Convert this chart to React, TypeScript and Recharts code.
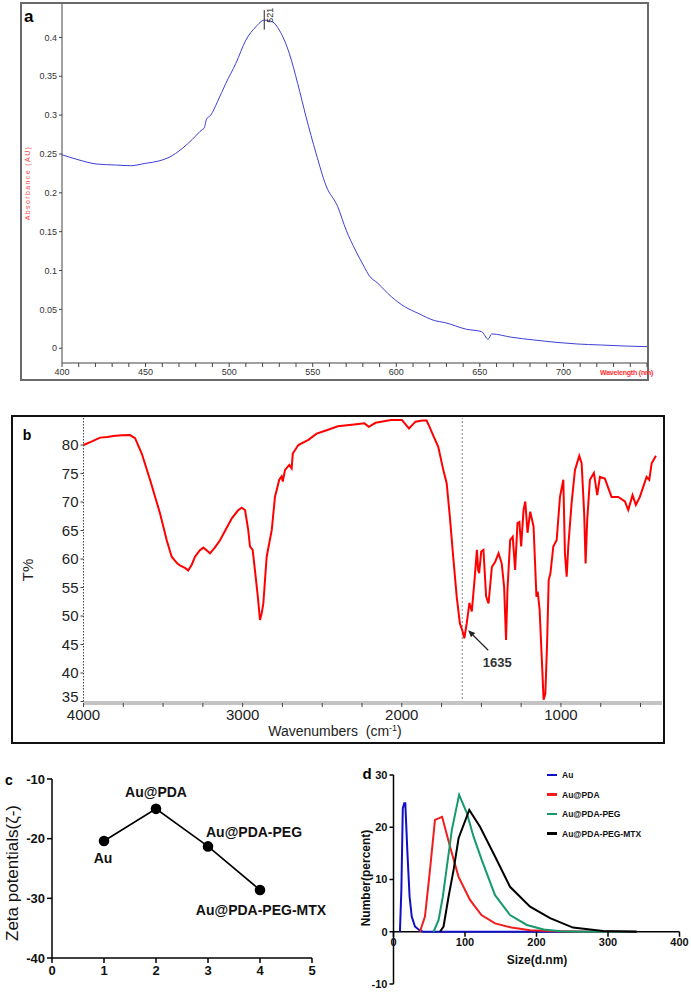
import { LineChart, Line, XAxis, YAxis, ReferenceLine, LabelList, Legend } from 'recharts';

// ---------- panel a: UV-vis spectrum ----------
const wavelength = [
  400, 409, 421, 432, 441, 450, 458, 464, 472, 478,
  484, 485, 486.5, 489, 493, 498, 504, 510, 516, 521,
  526, 530, 536, 541, 546, 552, 558, 565, 570, 575.5,
  581, 583.5, 589, 597, 605, 613, 623, 629, 642, 651,
  655, 657, 669, 682, 695, 708, 722, 735, 750,
];
const absorbance = [
  0.249, 0.243, 0.237, 0.2358, 0.2349, 0.238, 0.241, 0.2456, 0.2572, 0.2688,
  0.2816, 0.283, 0.295, 0.3, 0.3172, 0.3408, 0.3665, 0.3965, 0.4137, 0.4222,
  0.42, 0.4094, 0.3794, 0.3408, 0.2979, 0.2508, 0.209, 0.182, 0.152, 0.1264,
  0.104, 0.0943, 0.0835, 0.0664, 0.0535, 0.045, 0.0355, 0.033, 0.0244, 0.0214,
  0.0116, 0.0184, 0.0141, 0.0107, 0.0077, 0.0055, 0.0042, 0.003, 0.002,
];
const uvPeak = 521;
const uvYTicks = [0, 0.05, 0.1, 0.15, 0.2, 0.25, 0.3, 0.35, 0.4];
const uvXLabels = [400, 450, 500, 550, 600, 650, 700];

// ---------- panel b: FTIR spectrum ----------
const ftirWavenumber = [
  4000, 3950, 3896, 3850, 3812, 3760, 3708, 3676, 3634, 3582,
  3519, 3477, 3446, 3410, 3394, 3360, 3342, 3320, 3299, 3270,
  3247, 3225, 3205, 3175, 3142, 3100, 3069, 3030, 3006, 2985,
  2965, 2954, 2937, 2923, 2905, 2891, 2880, 2870, 2849, 2817,
  2797, 2770, 2755, 2748, 2734, 2707, 2692, 2685, 2650, 2587,
  2535, 2472, 2402, 2300, 2235, 2207, 2165, 2068, 1999, 1970,
  1955, 1935, 1914, 1870, 1844, 1823, 1800, 1771, 1739, 1718,
  1698, 1677, 1655, 1635, 1620, 1607, 1592, 1575, 1560, 1543,
  1528, 1520, 1514, 1501, 1487, 1470, 1455, 1434, 1413, 1392,
  1372, 1357, 1345, 1336, 1319, 1303, 1288, 1273, 1261, 1250,
  1235, 1224, 1210, 1193, 1172, 1154, 1146, 1134, 1119, 1109,
  1098, 1087, 1077, 1066, 1048, 1027, 1006, 985, 975, 964,
  954, 933, 912, 885, 870, 854, 845, 835, 818, 793,
  772, 755, 724, 682, 640, 598, 577, 550, 529, 504,
  462, 445, 430, 403,
];
const ftirTransmittance = [
  80.0, 80.6, 81.3, 81.4, 81.6, 81.7, 81.75, 81.2, 78.5, 73.9,
  68.0, 63.3, 60.4, 59.2, 58.9, 58.4, 58.0, 59.0, 60.4, 61.5,
  62.0, 61.5, 61.0, 62.0, 63.3, 65.5, 67.1, 68.5, 69.0, 68.6,
  65.1, 62.2, 61.6, 58.1, 53.5, 49.3, 50.5, 52.2, 60.4, 65.1,
  70.9, 73.9, 74.5, 73.6, 75.6, 76.5, 75.9, 78.5, 80.0, 80.9,
  82.0, 82.6, 83.3, 83.6, 83.8, 83.2, 83.9, 84.4, 84.4, 83.4,
  82.9, 83.5, 84.1, 84.3, 84.3, 83.0, 81.5, 79.7, 75.6, 73.3,
  67.4, 60.4, 53.4, 48.7, 47.5, 46.1, 48.7, 52.3, 50.8, 56.3,
  61.6, 58.0, 57.5, 61.3, 61.6, 53.4, 52.2, 58.6, 59.5, 61.0,
  59.2, 55.1, 45.8, 54.6, 63.3, 63.9, 58.1, 66.3, 66.5, 62.2,
  68.6, 70.1, 64.6, 68.3, 65.7, 53.4, 54.3, 51.1, 41.7, 35.3,
  36.4, 45.2, 56.3, 57.5, 62.2, 63.3, 70.9, 73.9, 61.0, 56.9,
  62.2, 69.8, 75.6, 78.1, 76.8, 68.0, 59.2, 66.8, 73.9, 75.1,
  71.2, 74.4, 74.1, 70.9, 70.9, 70.1, 68.6, 71.2, 69.5, 70.9,
  74.4, 73.9, 76.8, 78.1,
];
const ftirYTicks = [35, 40, 45, 50, 55, 60, 65, 70, 75, 80];
const ftirXTicks = [4000, 3750, 3500, 3250, 3000, 2750, 2500, 2250, 2000, 1750, 1500, 1250, 1000, 750, 500];
const ftirMarkLine = 1620;
const ftirMarkText = '1635';
const ftirArrow = [{ x: 1457, y: 44.0 }, { x: 1583, y: 47.5 }];

// ---------- panel c: zeta potential ----------
const zetaSamples = ['Au', 'Au@PDA', 'Au@PDA-PEG', 'Au@PDA-PEG-MTX'];
const zetaIndex = [1, 2, 3, 4];
const zetaPotential = [-20.4, -15.0, -21.3, -28.6];

// ---------- panel d: DLS size distribution ----------
const dlsNames = ['Au', 'Au@PDA', 'Au@PDA-PEG', 'Au@PDA-PEG-MTX'];
const dlsColors = ['#1010c4', '#f21c1c', '#169a6c', '#000000'];
const sizeAu = [9, 11, 13, 15, 16.5, 19.5, 22.5, 25.5, 30, 37, 42, 100, 200, 340];
const numAu = [0, 8, 23.6, 24.6, 24.6, 15, 6.7, 2.9, 1, 0.2, 0, 0, 0, 0];
const sizePda = [37, 44, 51, 58, 68, 79, 91, 107, 123, 142, 165, 191, 230, 270, 340];
const numPda = [0, 2.9, 11.8, 21.4, 22, 16.3, 10.5, 6.1, 3.2, 1.6, 0.8, 0.3, 0.1, 0, 0];
const sizePeg = [56, 63, 69, 74.6, 81.6, 91.8, 102.6, 112, 123.5, 142, 163, 186.5, 210, 233, 260, 340];
const numPeg = [0, 2.2, 6.7, 12.4, 19.5, 26.2, 22.7, 18.2, 13.7, 7, 3.2, 1.3, 0.45, 0.1, 0, 0];
const sizeMtx = [65, 70, 77, 84, 91, 106, 121, 142, 163, 191, 219, 251, 293, 340];
const numMtx = [0, 1, 6.7, 11.8, 17.9, 23.3, 20.1, 14.4, 8.6, 4.8, 2.6, 0.8, 0.15, 0];
const dlsXTicks = [0, 100, 200, 300, 400];
const dlsYTicks = [-10, 0, 10, 20, 30];

const FONT = "'Liberation Sans', Arial, Helvetica, sans-serif";
const NARROW = "'Liberation Sans Narrow', 'Liberation Sans', Arial, sans-serif";

const zip = (xs: number[], ys: number[]) => xs.map((x, i) => ({ x, y: ys[i] }));

const uvData = zip(wavelength, absorbance);
const uvXTicks: number[] = [];
for (let w = 400; w <= 750; w += 10) uvXTicks.push(w);
const ftirData = zip(ftirWavenumber, ftirTransmittance);
const zetaData = zetaSamples.map((name, i) => ({ name, x: zetaIndex[i], y: zetaPotential[i] }));
const dlsSeries = [zip(sizeAu, numAu), zip(sizePda, numPda), zip(sizePeg, numPeg), zip(sizeMtx, numMtx)];

// panel d geometry (x axis is drawn at y = 0)
const D_TOP = 10;
const D_PLOT_H = 209;
const D_ZERO = D_TOP + (D_PLOT_H * 30) / 40;

const PeakMarker = (props: any) => {
  const { x1, y1, x2, y2 } = props;
  const top = Math.min(y1, y2);
  const tx = x1 + 6;
  const ty = top + 5;
  return (
    <g>
      <line x1={x1} y1={y1} x2={x2} y2={y2} stroke="#222" strokeWidth={1} />
      <text x={tx} y={ty} transform={`rotate(-90 ${tx} ${ty})`} textAnchor="middle" dominantBaseline="central" fontSize={9} fill="#222" fontFamily={FONT}>
        {uvPeak}
      </text>
    </g>
  );
};

const ArrowShape = (props: any) => {
  const { x1, y1, x2, y2 } = props;
  const ang = Math.atan2(y2 - y1, x2 - x1);
  const len = 7;
  const w = 3;
  const bx = x2 - len * Math.cos(ang);
  const by = y2 - len * Math.sin(ang);
  const p1 = `${bx + w * Math.sin(ang)},${by - w * Math.cos(ang)}`;
  const p2 = `${bx - w * Math.sin(ang)},${by + w * Math.cos(ang)}`;
  return (
    <g>
      <line x1={x1} y1={y1} x2={bx} y2={by} stroke="#222" strokeWidth={1.2} />
      <polygon points={`${x2},${y2} ${p1} ${p2}`} fill="#222" />
      <text x={x1 + 9} y={y1 + 17} textAnchor="middle" fontSize={13} fontWeight="bold" fill="#333" fontFamily={FONT}>
        {ftirMarkText}
      </text>
    </g>
  );
};

// lowest T% label sits a little above its tick so it clears the x axis labels
const FtirYTick = (props: any) => {
  const { x, y, payload } = props;
  const lift = payload.value === ftirYTicks[0] ? -5 : 0;
  return (
    <text x={x} y={y + lift} dy="0.355em" textAnchor="end" fontSize={15} fill="#222" fontFamily={NARROW}>
      {payload.value}
    </text>
  );
};

const zetaPlacement: Record<string, { dx: number; dy: number; anchor: string }> = {
  Au: { dx: -1, dy: 22, anchor: 'middle' },
  'Au@PDA': { dx: 0, dy: -12, anchor: 'middle' },
  'Au@PDA-PEG': { dx: -2, dy: -9, anchor: 'start' },
  'Au@PDA-PEG-MTX': { dx: 1, dy: 25, anchor: 'middle' },
};

const ZetaLabel = (props: any) => {
  const { x, y, value } = props;
  const p = zetaPlacement[value] || { dx: 0, dy: -10, anchor: 'middle' };
  return (
    <text x={x + p.dx} y={y + p.dy} textAnchor={p.anchor as any} fontSize={14} fontWeight="bold" fill="#111" fontFamily={FONT}>
      {value}
    </text>
  );
};

const DlsTick = (props: any) => {
  const { x, payload } = props;
  return (
    <g>
      <line x1={x} x2={x} y1={D_ZERO} y2={D_ZERO + 5} stroke="#000" strokeWidth={1.5} />
      <text x={x} y={D_ZERO + 14} textAnchor="middle" fontSize={11} fontWeight="bold" fill="#111" fontFamily={FONT}>
        {payload.value}
      </text>
    </g>
  );
};

const DlsLegend = (props: any) => {
  const { payload } = props;
  return (
    <div style={{ fontFamily: FONT }}>
      {(payload || []).map((p: any) => (
        <div key={p.value} style={{ height: 19.5, display: 'flex', alignItems: 'center' }}>
          <span style={{ display: 'inline-block', width: 10, height: 2.5, background: p.color, marginRight: 5 }} />
          <span style={{ fontSize: 8.5, fontWeight: 'bold', color: '#111' }}>{p.value}</span>
        </div>
      ))}
    </div>
  );
};

const abs = (left: number, top: number, extra: any = {}) => ({ position: 'absolute' as const, left, top, ...extra });

const rotated = (cx: number, cy: number, extra: any = {}) => ({
  position: 'absolute' as const,
  left: cx,
  top: cy,
  transform: 'translate(-50%, -50%) rotate(-90deg)',
  whiteSpace: 'nowrap' as const,
  ...extra,
});

const centered = (cx: number, cy: number, extra: any = {}) => ({
  position: 'absolute' as const,
  left: cx,
  top: cy,
  transform: 'translate(-50%, -50%)',
  whiteSpace: 'nowrap' as const,
  ...extra,
});

export default function App() {
  return (
    <div style={{ position: 'absolute', left: 0, top: 0, width: 691, height: 992, background: '#fff', fontFamily: FONT, overflow: 'hidden' }}>
      {/* panel a */}
      <div style={abs(20, 2, { width: 629, height: 379, border: '2px solid #6a6a6a', boxSizing: 'border-box' })} />
      <div style={abs(0, 0)}>
        <LineChart width={691} height={400} data={uvData} margin={{ top: 4, right: 44, bottom: 17, left: 22 }}>
          <XAxis
            type="number"
            dataKey="x"
            domain={[400, 750]}
            ticks={uvXTicks}
            interval={0}
            tickFormatter={(v: number) => (uvXLabels.includes(v) ? String(v) : '')}
            height={20}
            tick={{ fontSize: 9, fill: '#333', fontFamily: FONT }}
            tickSize={4}
            tickMargin={2}
            stroke="#444"
          />
          <YAxis
            type="number"
            domain={[-0.019, 0.443]}
            ticks={uvYTicks}
            interval={0}
            width={40}
            tick={{ fontSize: 9, fill: '#333', fontFamily: FONT }}
            tickSize={3}
            tickMargin={2}
            stroke="#444"
          />
          <Line type="monotone" dataKey="y" stroke="#3e3ed6" strokeWidth={1} dot={false} isAnimationActive={false} />
          <ReferenceLine segment={[{ x: uvPeak, y: 0.41 }, { x: uvPeak, y: 0.435 }]} shape={PeakMarker} ifOverflow="visible" />
        </LineChart>
      </div>
      <div style={abs(24, 7, { fontSize: 17, fontWeight: 'bold' })}>a</div>
      <div style={rotated(27, 183, { fontSize: 7, letterSpacing: 1.4, color: '#ff4040' })}>Absorbance (AU)</div>
      <div style={abs(600, 369, { fontSize: 7, fontWeight: 'bold', color: '#ff3030', letterSpacing: -0.2 })}>Wavelength (nm)</div>

      {/* panel b */}
      <div style={abs(11, 415, { width: 654, height: 329, border: '2px solid #111', boxSizing: 'border-box' })} />
      <div style={abs(0, 410)}>
        <LineChart width={691} height={330} data={ftirData} margin={{ top: 8, right: 29, bottom: 12, left: 43.5 }}>
          <XAxis
            type="number"
            dataKey="x"
            domain={[365, 4000]}
            reversed
            ticks={ftirXTicks}
            interval={0}
            tickFormatter={(v: number) => (v % 1000 === 0 ? String(v) : '')}
            height={25}
            tick={{ fontSize: 15, fill: '#222', fontFamily: NARROW }}
            axisLine={{ stroke: '#c4c4c4', strokeWidth: 4 }}
            tickLine={{ stroke: '#444' }}
            tickSize={4}
            tickMargin={2}
          />
          <YAxis
            type="number"
            domain={[34.74, 84.74]}
            ticks={ftirYTicks}
            interval={0}
            width={40}
            tick={FtirYTick}
            axisLine={{ stroke: '#444', strokeDasharray: '1.5 1.5' }}
            tickLine={{ stroke: '#444' }}
            tickSize={3}
            tickMargin={2}
          />
          <ReferenceLine x={ftirMarkLine} stroke="#666" strokeWidth={0.8} strokeDasharray="2 2" />
          <Line dataKey="y" stroke="#ff0000" strokeWidth={2} dot={false} isAnimationActive={false} />
          <ReferenceLine segment={ftirArrow} shape={ArrowShape} ifOverflow="visible" />
        </LineChart>
      </div>
      <div style={centered(27, 435, { fontSize: 14, fontWeight: 'bold' })}>b</div>
      <div style={rotated(27, 570, { fontSize: 15, color: '#222' })}>T%</div>
      <div style={centered(335, 731, { fontSize: 14, color: '#222', fontFamily: NARROW })}>
        Wavenumbers&nbsp;&nbsp;(cm<sup style={{ fontSize: 9 }}>-1</sup>)
      </div>

      {/* panel c */}
      <div style={abs(0, 770)}>
        <LineChart width={345} height={222} data={zetaData} margin={{ top: 9, right: 33, bottom: 10, left: 12 }}>
          <XAxis
            type="number"
            dataKey="x"
            domain={[0, 5]}
            ticks={[0, 1, 2, 3, 4, 5]}
            interval={0}
            height={24}
            tick={{ fontSize: 13, fontWeight: 'bold', fill: '#111', fontFamily: FONT }}
            axisLine={{ stroke: '#000', strokeWidth: 1.5 }}
            tickLine={{ stroke: '#000', strokeWidth: 1.5 }}
            tickSize={5}
            tickMargin={3}
          />
          <YAxis
            type="number"
            domain={[-40, -10]}
            ticks={[-40, -30, -20, -10]}
            interval={0}
            width={40}
            tick={{ fontSize: 13, fontWeight: 'bold', fill: '#111', fontFamily: FONT }}
            axisLine={{ stroke: '#000', strokeWidth: 1.5 }}
            tickLine={{ stroke: '#000', strokeWidth: 1.5 }}
            tickSize={5}
            tickMargin={2}
          />
          <Line
            dataKey="y"
            stroke="#000"
            strokeWidth={1.6}
            dot={{ r: 4.5, fill: '#000', stroke: '#000' }}
            isAnimationActive={false}
          >
            <LabelList dataKey="name" content={ZetaLabel} />
          </Line>
        </LineChart>
      </div>
      <div style={centered(9, 780, { fontSize: 14, fontWeight: 'bold' })}>c</div>
      <div style={rotated(13, 873, { fontSize: 17, color: '#111' })}>Zeta potentials(ζ-)</div>

      {/* panel d */}
      <div style={abs(345, 765)}>
        <LineChart width={346} height={227} margin={{ top: D_TOP, right: 11.5, bottom: 0, left: 8.5 }}>
          <XAxis
            type="number"
            dataKey="x"
            domain={[0, 400]}
            ticks={dlsXTicks}
            interval={0}
            height={8}
            axisLine={false}
            tickLine={false}
            tick={DlsTick}
          />
          <YAxis
            type="number"
            domain={[-10, 30]}
            ticks={dlsYTicks}
            interval={0}
            width={40}
            tick={{ fontSize: 11, fontWeight: 'bold', fill: '#111', fontFamily: FONT }}
            axisLine={{ stroke: '#000', strokeWidth: 1.5 }}
            tickLine={{ stroke: '#000', strokeWidth: 1.5 }}
            tickSize={4}
            tickMargin={2}
          />
          <ReferenceLine y={0} stroke="#000" strokeWidth={1.5} />
          {dlsSeries.map((d, i) => (
            <Line
              key={dlsNames[i]}
              data={d}
              dataKey="y"
              name={dlsNames[i]}
              stroke={dlsColors[i]}
              strokeWidth={2}
              dot={false}
              isAnimationActive={false}
            />
          ))}
          <Legend
            layout="horizontal"
            verticalAlign="middle"
            align="center"
            wrapperStyle={{ top: 0.25, left: 202, width: 140 }}
            content={DlsLegend}
          />
        </LineChart>
      </div>
      <div style={centered(367, 773, { fontSize: 15, fontWeight: 'bold' })}>d</div>
      <div style={rotated(366, 878, { fontSize: 12, fontWeight: 'bold', color: '#111' })}>Number(percent)</div>
      <div style={centered(537, 960, { fontSize: 12, fontWeight: 'bold', color: '#111' })}>Size(d.nm)</div>
    </div>
  );
}
